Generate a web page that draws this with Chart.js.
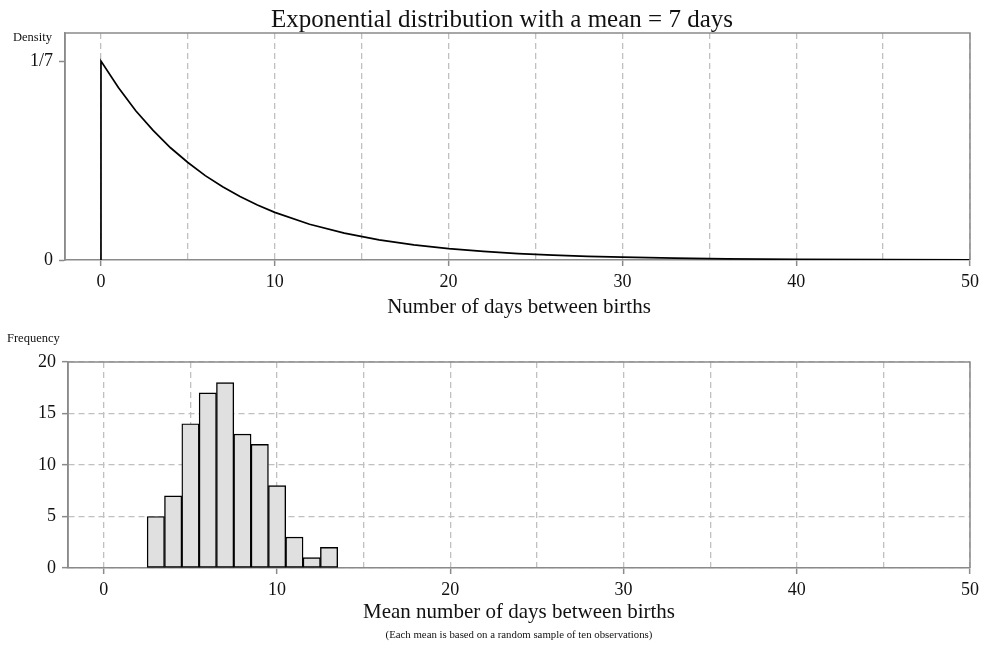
<!DOCTYPE html>
<html>
<head>
<meta charset="utf-8">
<title>Exponential distribution</title>
<script src="https://cdn.jsdelivr.net/npm/chart.js@4.4.0/dist/chart.umd.min.js"></script>
<style>
  html, body { margin: 0; padding: 0; background: #fff; }
  #wrap { position: relative; width: 984px; height: 648px; }
  canvas { position: absolute; left: 0; }
  #top { top: 0; }
  #bottom { top: 320px; }
</style>
</head>
<body>
<div id="wrap">
  <canvas id="top" width="984" height="320"></canvas>
  <canvas id="bottom" width="984" height="328"></canvas>
</div>
<script>
// densidad (x en dias, y en densidad)
var densityX = [0, 0, 1, 2, 3, 4, 5, 6, 7, 8, 9, 10, 12, 14, 16, 18, 20, 22, 24, 26, 28, 30, 33, 36, 40, 45, 50];
var densityY = [0, 0.1429, 0.1239, 0.1072, 0.0931, 0.0806, 0.0700, 0.0606, 0.0526, 0.0456, 0.0395, 0.0342,
                0.0257, 0.0193, 0.0145, 0.0109, 0.0082, 0.0062, 0.0046, 0.0035, 0.0026, 0.0020, 0.0013,
                0.0008, 0.0005, 0.0002, 0.0001];

// histograma de medias (centro de cada barra y frecuencia)
var histCenters = [3, 4, 5, 6, 7, 8, 9, 10, 11, 12, 13];
var histCounts  = [5, 7, 14, 17, 18, 13, 12, 8, 3, 1, 2];

// marcas de los ejes
var xTicks = [0, 5, 10, 15, 20, 25, 30, 35, 40, 45, 50];
var xTickLabels = ["0", "", "10", "", "20", "", "30", "", "40", "", "50"];
var densityTicks = [0, 1 / 7];
var densityTickLabels = ["0", "1/7"];
var freqTicks = [0, 5, 10, 15, 20];
var freqTickLabels = ["0", "5", "10", "15", "20"];

var FONT = "'Liberation Serif', 'Times New Roman', serif";
Chart.defaults.font.family = FONT;
Chart.defaults.color = "#111";

var AXIS_GRAY = "#8a8a8a";
var GRID_GRAY = "#c0c0c0";

function setTicks(values) {
    return function (scale) {
        scale.ticks = values.map(function (v) { return { value: v }; });
    };
}
function labelFrom(values, labels) {
    return function (value) {
        var i = values.findIndex(function (v) { return Math.abs(v - value) < 1e-9; });
        return i >= 0 ? labels[i] : "";
    };
}

// marco gris y textos extra
function framePlugin(texts) {
    return {
        id: "frame",
        afterDraw: function (chart) {
            var a = chart.chartArea, ctx = chart.ctx;
            ctx.save();
            ctx.strokeStyle = AXIS_GRAY;
            ctx.lineWidth = 1.5;
            ctx.beginPath();
            ctx.moveTo(a.left, a.bottom);
            ctx.lineTo(a.left, a.top);
            ctx.lineTo(a.right, a.top);
            ctx.lineTo(a.right, a.bottom);
            ctx.stroke();
            ctx.fillStyle = "#111";
            texts.forEach(function (t) {
                ctx.font = t.size + "px " + FONT;
                ctx.textAlign = t.align || "center";
                ctx.textBaseline = "middle";
                ctx.fillText(t.text, t.x, t.y);
            });
            ctx.restore();
        }
    };
}

function xScale() {
    return {
        type: "linear",
        min: -2.07,
        max: 50,
        offset: false,
        afterBuildTicks: setTicks(xTicks),
        ticks: {
            autoSkip: false,
            maxRotation: 0,
            padding: 5,
            font: { size: 18 },
            callback: labelFrom(xTicks, xTickLabels)
        },
        grid: {
            offset: false,
            color: GRID_GRAY,
            lineWidth: 1.3,
            tickLength: 6,
            tickWidth: 1.5,
            tickColor: function (c) { return c.tick && c.tick.value % 10 === 0 ? AXIS_GRAY : "rgba(0,0,0,0)"; }
        },
        border: { color: AXIS_GRAY, width: 1.5, dash: [6, 4] }
    };
}

// grafico superior: densidad exponencial
var topChart = new Chart(document.getElementById("top"), {
    type: "scatter",
    data: {
        datasets: [{
            data: densityX.map(function (x, i) { return { x: x, y: densityY[i] }; }),
            showLine: true,
            borderColor: "#000",
            borderWidth: 1.7,
            pointRadius: 0,
            tension: 0
        }]
    },
    options: {
        responsive: false,
        animation: false,
        layout: { padding: { left: 0, right: 12, top: 33, bottom: 0 } },
        plugins: { legend: { display: false }, tooltip: { enabled: false } },
        scales: {
            x: Object.assign(xScale(), { afterFit: function (s) { s.height = 60; } }),
            y: {
                min: 0,
                max: 0.163,
                afterBuildTicks: setTicks(densityTicks),
                afterFit: function (s) { s.width = 65; },
                ticks: { padding: 6, font: { size: 18 }, callback: labelFrom(densityTicks, densityTickLabels) },
                grid: { drawOnChartArea: false, tickLength: 6, tickWidth: 1.5, tickColor: AXIS_GRAY },
                border: { color: AXIS_GRAY, width: 1.5 }
            }
        }
    },
    plugins: [framePlugin([
        { text: "Exponential distribution with a mean = 7 days", x: 502, y: 20, size: 25 },
        { text: "Density", x: 13, y: 38, size: 12.5, align: "left" },
        { text: "Number of days between births", x: 519, y: 307, size: 21 }
    ])]
});

// grafico inferior: histograma de medias
var bottomChart = new Chart(document.getElementById("bottom"), {
    type: "bar",
    data: {
        datasets: [{
            data: histCenters.map(function (x, i) { return { x: x, y: histCounts[i] }; }),
            backgroundColor: "#e0e0e0",
            borderColor: "#000",
            borderWidth: 1.4,
            borderSkipped: false,
            barPercentage: 1,
            categoryPercentage: 1
        }]
    },
    options: {
        responsive: false,
        animation: false,
        layout: { padding: { left: 0, right: 12, top: 42, bottom: 0 } },
        plugins: { legend: { display: false }, tooltip: { enabled: false } },
        scales: {
            x: Object.assign(xScale(), { afterFit: function (s) { s.height = 80; } }),
            y: {
                min: 0,
                max: 20,
                afterBuildTicks: setTicks(freqTicks),
                afterFit: function (s) { s.width = 68; },
                ticks: { padding: 6, font: { size: 18 }, callback: labelFrom(freqTicks, freqTickLabels) },
                grid: { color: GRID_GRAY, lineWidth: 1.3, tickLength: 6, tickWidth: 1.5, tickColor: AXIS_GRAY },
                border: { color: AXIS_GRAY, width: 1.5, dash: [6, 4] }
            }
        }
    },
    plugins: [framePlugin([
        { text: "Frequency", x: 7, y: 19, size: 12.5, align: "left" },
        { text: "Mean number of days between births", x: 519, y: 292, size: 21 },
        { text: "(Each mean is based on a random sample of ten observations)", x: 519, y: 315, size: 10.8 }
    ])]
});
</script>
</body>
</html>
